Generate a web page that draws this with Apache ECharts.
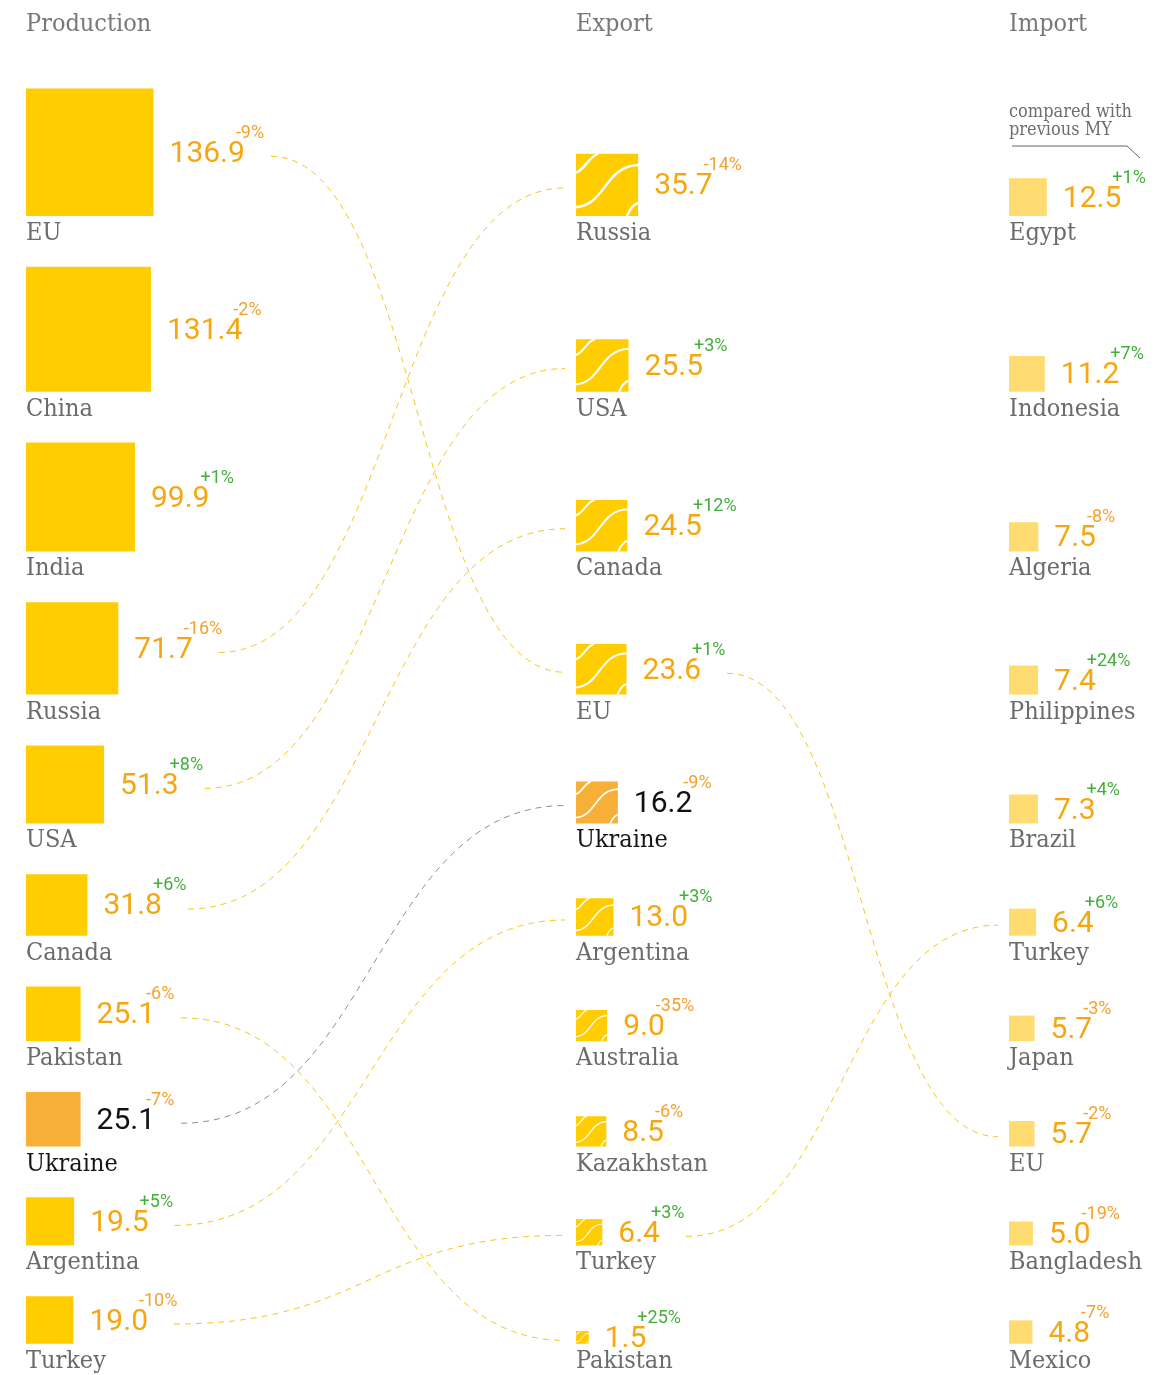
<!DOCTYPE html>
<html>
<head>
<meta charset="utf-8">
<script src="https://cdn.jsdelivr.net/npm/echarts@6/dist/echarts.min.js"></script>
<style>
html, body { margin: 0; padding: 0; background: #fff; }
#main { width: 1176px; height: 1375px; }
</style>
</head>
<body>
<div id="main"></div>
<script>
// column headers
var columnTitles = ['Production', 'Export', 'Import'];

// production, million t
var productionNames = ['EU', 'China', 'India', 'Russia', 'USA', 'Canada', 'Pakistan', 'Ukraine', 'Argentina', 'Turkey'];
var productionValues = [136.9, 131.4, 99.9, 71.7, 51.3, 31.8, 25.1, 25.1, 19.5, 19.0];
var productionChange = [-9, -2, 1, -16, 8, 6, -6, -7, 5, -10];

// export
var exportNames = ['Russia', 'USA', 'Canada', 'EU', 'Ukraine', 'Argentina', 'Australia', 'Kazakhstan', 'Turkey', 'Pakistan'];
var exportValues = [35.7, 25.5, 24.5, 23.6, 16.2, 13.0, 9.0, 8.5, 6.4, 1.5];
var exportChange = [-14, 3, 12, 1, -9, 3, -35, -6, 3, 25];

// import
var importNames = ['Egypt', 'Indonesia', 'Algeria', 'Philippines', 'Brazil', 'Turkey', 'Japan', 'EU', 'Bangladesh', 'Mexico'];
var importValues = [12.5, 11.2, 7.5, 7.4, 7.3, 6.4, 5.7, 5.7, 5.0, 4.8];
var importChange = [1, 7, -8, 24, 4, 6, -3, -2, -19, -7];

var highlightName = 'Ukraine';

// layout / style
var COL_X = [26, 576, 1009];
var SIZE_K = [10.9, 10.4, 10.7]; // side = k * sqrt(value)
var FIRST_BOTTOM = 216;
var ROW_GAP = 50.8;
var SQUARE_COLOR = ['#FFCD00', '#FFCD00', '#FFDC72'];
var HIGHLIGHT_COLOR = '#F7AF37';
var VALUE_COLOR = '#F6A70F';
var NEG_COLOR = '#F4A12E';
var POS_COLOR = '#44AE3C';
var LABEL_COLOR = '#6b6b6b';
var LINK_COLOR = '#F8C81C';
var LABEL_FONT = '25px "DejaVu Serif Condensed", "DejaVu Serif"';

var columns = [
    {names: productionNames, values: productionValues, change: productionChange},
    {names: exportNames, values: exportValues, change: exportChange},
    {names: importNames, values: importValues, change: importChange}
];

function side(col, v) {
    return SIZE_K[col] * Math.sqrt(v);
}

// rows are stacked by production squares
var rowBottom = [];
for (var i = 0; i < productionValues.length; i++) {
    rowBottom.push(i === 0 ? FIRST_BOTTOM : rowBottom[i - 1] + side(0, productionValues[i]) + ROW_GAP);
}

var measureCtx = document.createElement('canvas').getContext('2d');
function textWidth(str, font) {
    measureCtx.font = font;
    return measureCtx.measureText(str).width;
}

var VALUE_FONT = '400 30px Roboto';

function pctText(c) {
    return (c > 0 ? '+' : '') + c + '%';
}

// pixel geometry of one cell
function cellGeom(api, col, row) {
    var v = columns[col].values[row];
    var s = api.size([side(col, v), side(col, v)]);
    var bl = api.coord([COL_X[col], rowBottom[row]]);
    var vx = bl[0] + s[0] + 16;
    var vw = textWidth(v.toFixed(1), VALUE_FONT);
    return {x: bl[0], y: bl[1] - s[1], w: s[0], h: s[1], mid: bl[1] - s[1] / 2, vx: vx, vw: vw};
}

// white wave lines on export squares
function waves(g, lw) {
    var rel = [
        [0, 0.30, 0.14, 0.26, 0.22, 0.02, 0.36, 0],
        [0, 0.86, 0.48, 0.82, 0.46, 0.20, 1, 0.18],
        [0.82, 1, 0.87, 0.88, 0.93, 0.81, 1, 0.79]
    ];
    return rel.map(function (r) {
        return {
            type: 'bezierCurve',
            shape: {
                x1: g.x + r[0] * g.w, y1: g.y + r[1] * g.h,
                cpx1: g.x + r[2] * g.w, cpy1: g.y + r[3] * g.h,
                cpx2: g.x + r[4] * g.w, cpy2: g.y + r[5] * g.h,
                x2: g.x + r[6] * g.w, y2: g.y + r[7] * g.h
            },
            style: {stroke: '#fff', lineWidth: lw, fill: null}
        };
    });
}

function renderCell(col) {
    return function (params, api) {
        var row = params.dataIndex;
        var c = columns[col];
        var name = c.names[row];
        var isHL = name === highlightName;
        var g = cellGeom(api, col, row);
        var children = [{
            type: 'rect',
            shape: {x: g.x, y: g.y, width: g.w, height: g.h},
            style: {fill: isHL ? HIGHLIGHT_COLOR : SQUARE_COLOR[col]}
        }];
        if (col === 1) {
            children = children.concat(waves(g, Math.max(1, g.w * 0.04)));
        }
        children.push({
            type: 'text',
            style: {
                text: c.values[row].toFixed(1), x: g.vx, y: g.mid + 2,
                font: VALUE_FONT, fill: isHL ? '#111' : VALUE_COLOR,
                align: 'left', verticalAlign: 'middle'
            }
        });
        children.push({
            type: 'text',
            style: {
                text: pctText(c.change[row]), x: g.vx + g.vw - 9, y: g.mid - 10,
                font: '400 18px Roboto', fill: c.change[row] > 0 ? POS_COLOR : NEG_COLOR,
                align: 'left', verticalAlign: 'bottom'
            }
        });
        children.push({
            type: 'text',
            style: {
                text: name, x: g.x, y: g.y + g.h + 5,
                font: LABEL_FONT, fill: isHL ? '#161616' : LABEL_COLOR,
                align: 'left', verticalAlign: 'top'
            }
        });
        return {type: 'group', children: children};
    };
}

// links: same country in neighbouring columns
var links = [];
[[0, 1], [1, 2]].forEach(function (pair) {
    columns[pair[0]].names.forEach(function (n, r) {
        var t = columns[pair[1]].names.indexOf(n);
        if (t >= 0) links.push([pair[0], r, pair[1], t]);
    });
});

function renderLink(params, api) {
    var l = links[params.dataIndex];
    var a = cellGeom(api, l[0], l[1]);
    var b = cellGeom(api, l[2], l[3]);
    var x0 = a.vx + a.vw + 26, y0 = a.mid + 4;
    var x1 = b.x - 11, y1 = b.mid + 3;
    var dx = (x1 - x0) * 0.5;
    var isHL = columns[l[0]].names[l[1]] === highlightName;
    return {
        type: 'bezierCurve',
        shape: {x1: x0, y1: y0, cpx1: x0 + dx, cpy1: y0, cpx2: x1 - dx, cpy2: y1, x2: x1, y2: y1},
        style: {stroke: isHL ? '#8f8f8f' : LINK_COLOR, lineWidth: 1, lineDash: [6, 5], fill: null}
    };
}

var chart = echarts.init(document.getElementById('main'));

var series = [{
    type: 'custom',
    name: 'links',
    silent: true,
    clip: false,
    z: 1,
    renderItem: renderLink,
    data: links
}];
columns.forEach(function (c, col) {
    series.push({
        type: 'custom',
        name: columnTitles[col],
        silent: true,
        clip: false,
        z: 2,
        renderItem: renderCell(col),
        data: c.values.map(function (v, r) { return [COL_X[col], rowBottom[r], v]; })
    });
});

chart.setOption({
    animation: false,
    backgroundColor: '#fff',
    grid: {left: 0, right: 0, top: 0, bottom: 0},
    xAxis: {type: 'value', min: 0, max: 1176, show: false},
    yAxis: {type: 'value', min: 0, max: 1375, inverse: true, show: false},
    graphic: columnTitles.map(function (t, col) {
        return {
            type: 'text', left: COL_X[col], top: 12,
            style: {text: t, font: LABEL_FONT, fill: '#787878'}
        };
    }).concat([{
        type: 'text', left: 1009, top: 103,
        style: {text: 'compared with\nprevious MY', font: '18px "DejaVu Serif Condensed", "DejaVu Serif"', fill: '#6e6e6e', lineHeight: 18}
    }, {
        type: 'polyline',
        shape: {points: [[1012, 146], [1127, 146], [1140, 158]]},
        style: {stroke: '#666', lineWidth: 1, fill: null}
    }]),
    series: series
});
</script>
</body>
</html>
